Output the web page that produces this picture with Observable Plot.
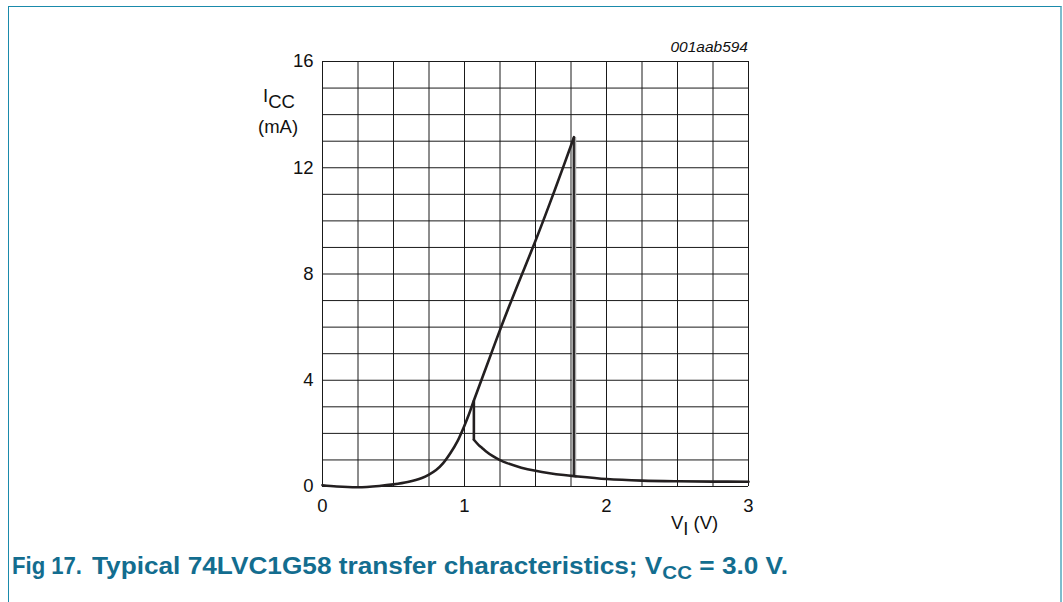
<!DOCTYPE html>
<html>
<head>
<meta charset="utf-8">
<script src="https://cdn.jsdelivr.net/npm/d3@7"></script>
<script src="https://cdn.jsdelivr.net/npm/@observablehq/plot@0.6"></script>
<style>
  html, body { margin: 0; padding: 0; background: #fff; }
  body { width: 1063px; height: 602px; position: relative; overflow: hidden; font-family: "Liberation Sans", Arial, sans-serif; }
  #frame { position: absolute; left: 8px; top: 6px; width: 1054px; height: 620px; border-top: 1.5px solid #1a8aab; border-left: 1.5px solid #1a8aab; border-right: 2px solid #7dbdcd; box-sizing: border-box; }
  #chart { position: absolute; left: 0; top: 0; }
  #chart svg text.tick-lbl { font-size: 18.5px !important; }
  .lbl { position: absolute; color: #111; font-size: 18.5px; white-space: nowrap; }
  .lbl sub { font-size: 18.5px; vertical-align: -0.35em; line-height: 0; }
  #figid { position: absolute; right: 315px; top: 38px; font-size: 15.5px; font-style: italic; color: #111; }
  .cap { position: absolute; top: 553px; color: #136d8f; font-family: "Liberation Sans", Arial, sans-serif; font-weight: bold; font-size: 23px; white-space: nowrap; transform-origin: 0 0; }
  .cap sub { font-size: 18px; vertical-align: -0.25em; line-height: 0; }
</style>
</head>
<body>
<div id="frame"></div>
<div id="chart"></div>
<div class="lbl" style="left:263px; top:85px;">I<sub>CC</sub></div>
<div class="lbl" style="left:258px; top:116px;">(mA)</div>
<div class="lbl" style="left:671px; top:512px;">V<sub>I</sub> (V)</div>
<div id="figid"></div>
<div class="cap" id="cap1" style="left:12px;">Fig 17.</div>
<div class="cap" id="cap2" style="left:92px;">Typical 74LVC1G58 transfer characteristics; V<sub>CC</sub> = 3.0 V.</div>
<script>
// Sweep-up branch (rising current up to the upper threshold)
const upX = [0, 0.1, 0.25, 0.4, 0.5, 0.6, 0.7, 0.75, 0.8, 0.85, 0.9, 0.95, 1.0, 1.03, 1.066, 1.15, 1.254, 1.36, 1.5, 1.6, 1.7, 1.771];
const upY = [0.05, 0.0, -0.03, 0.02, 0.08, 0.17, 0.32, 0.45, 0.62, 0.88, 1.25, 1.7, 2.3, 2.7, 3.24, 4.45, 5.95, 7.4, 9.25, 10.65, 12.1, 13.15];
// Low-current branch (from lower threshold to 3 V)
const lowX = [1.066, 1.1, 1.124, 1.15, 1.2, 1.25, 1.3, 1.4, 1.5, 1.6, 1.7, 1.771, 2.0, 2.25, 2.5, 2.75, 3.0];
const lowY = [1.76, 1.56, 1.45, 1.33, 1.14, 0.99, 0.88, 0.71, 0.59, 0.5, 0.43, 0.39, 0.28, 0.22, 0.195, 0.185, 0.18];
// Jumps at the switching thresholds
const jumpLowX = [1.066, 1.066];
const jumpLowY = [3.24, 1.76];
const jumpHighX = [1.771, 1.771];
const jumpHighY = [13.15, 0.37];

const xTicks = [0, 1, 2, 3];
const yTicks = [0, 4, 8, 12, 16];
const xGrid = [0, 0.25, 0.5, 0.75, 1, 1.25, 1.5, 1.75, 2, 2.25, 2.5, 2.75, 3];
const yGrid = [0, 1, 2, 3, 4, 5, 6, 7, 8, 9, 10, 11, 12, 13, 14, 15, 16];
const figId = "001aab594";

const rows = [];
upX.forEach((x, i) => rows.push({s: "up", x, y: upY[i]}));
lowX.forEach((x, i) => rows.push({s: "low", x, y: lowY[i]}));
const jl = jumpLowX.map((x, i) => ({x, y: jumpLowY[i]}));
const high = jumpHighX.map((x, i) => ({x, y: jumpHighY[i]}));

const plot = Plot.plot({
  width: 1063,
  height: 540,
  marginLeft: 322,
  marginRight: 315,
  marginTop: 61,
  marginBottom: 54,
  style: {fontFamily: "'Liberation Sans', Arial, sans-serif", fontSize: "18.5px", color: "#111", background: "transparent"},
  x: {domain: [0, 3]},
  y: {domain: [0, 16]},
  marks: [
    Plot.ruleX(xGrid, {stroke: "#1a1a1a", strokeWidth: 1}),
    Plot.ruleY(yGrid, {stroke: "#1a1a1a", strokeWidth: 1}),
    Plot.axisX(xTicks, {tickSize: 0, tickPadding: 12, label: null, fontSize: 18.5, tickFormat: d => String(d)}),
    Plot.axisY(yTicks, {tickSize: 0, tickPadding: 9, label: null, fontSize: 18.5, tickFormat: d => String(d)}),
    Plot.line(high, {x: "x", y: "y", stroke: "#a8a8a8", strokeWidth: 4.5, strokeLinecap: "butt"}),
    Plot.line(high, {x: "x", y: "y", stroke: "#231f20", strokeWidth: 1.8, strokeLinecap: "butt"}),
    Plot.line(jl, {x: "x", y: "y", stroke: "#231f20", strokeWidth: 2.6, strokeLinecap: "butt"}),
    Plot.line(rows, {x: "x", y: "y", z: "s", stroke: "#231f20", strokeWidth: 2.6, curve: "catmull-rom", strokeLinejoin: "round"})
  ]
});
document.getElementById("chart").appendChild(plot);
// Make every axis text the reference size
plot.querySelectorAll("text").forEach(t => {
  t.classList.add("tick-lbl");
  t.setAttribute("font-size", "18.5");
  t.style.fontSize = "18.5px";
});
document.getElementById("figid").textContent = figId;

// Fit caption pieces to the reference's horizontal extents
function fit(id, w) {
  const el = document.getElementById(id);
  const nat = el.getBoundingClientRect().width;
  el.style.transform = `scaleX(${w / nat})`;
}
fit("cap1", 70);
fit("cap2", 696);
</script>
</body>
</html>
